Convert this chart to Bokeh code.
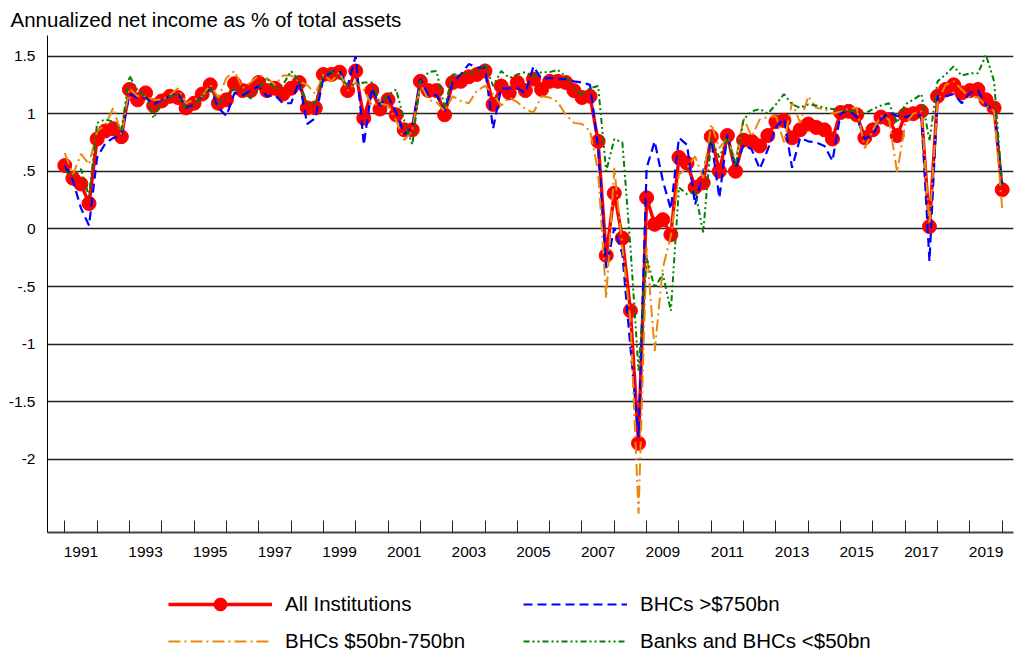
from bokeh.plotting import figure
from bokeh.layouts import column
from bokeh.models import FixedTicker, Legend, LegendItem, Range1d
from bokeh.embed import file_html
from bokeh.resources import INLINE

# Quarterly observations, 1991Q1 .. 2020Q1
quarters = [f"{y}Q{q}" for y in range(1991, 2021) for q in range(1, 5)][:117]

all_inst = [0.55, 0.44, 0.39, 0.22, 0.78, 0.85, 0.87, 0.80, 1.21, 1.12, 1.18, 1.07,
            1.11, 1.15, 1.14, 1.05, 1.09, 1.17, 1.25, 1.09, 1.12, 1.26, 1.20, 1.20,
            1.27, 1.20, 1.22, 1.17, 1.22, 1.27, 1.05, 1.05, 1.34, 1.34, 1.36, 1.20,
            1.37, 0.96, 1.20, 1.04, 1.12, 0.99, 0.86, 0.86, 1.28, 1.20, 1.20, 0.99,
            1.27, 1.28, 1.32, 1.34, 1.37, 1.08, 1.24, 1.18, 1.27, 1.20, 1.30, 1.21,
            1.28, 1.28, 1.27, 1.20, 1.14, 1.15, 0.76, -0.23, 0.31, -0.08, -0.71, -1.86,
            0.27, 0.04, 0.08, -0.05, 0.62, 0.57, 0.36, 0.40, 0.80, 0.50, 0.81, 0.50,
            0.77, 0.76, 0.72, 0.81, 0.93, 0.94, 0.79, 0.86, 0.91, 0.88, 0.86, 0.78,
            1.01, 1.02, 0.99, 0.79, 0.86, 0.97, 0.95, 0.81, 0.99, 1.00, 1.02, 0.02,
            1.15, 1.21, 1.25, 1.18, 1.20, 1.21, 1.12, 1.05, 0.34]

bhc_large = [0.55, 0.42, 0.18, 0.03, 0.62, 0.74, 0.79, 0.81, 1.17, 1.14, 1.14, 1.08,
             1.12, 1.15, 1.18, 1.05, 1.08, 1.15, 1.22, 1.05, 0.98, 1.18, 1.16, 1.20,
             1.24, 1.15, 1.16, 1.09, 1.09, 1.28, 0.91, 0.96, 1.31, 1.36, 1.37, 1.24,
             1.50, 0.73, 1.22, 1.07, 1.15, 1.01, 0.82, 0.88, 1.30, 1.16, 1.16, 1.02,
             1.27, 1.34, 1.43, 1.40, 1.40, 0.87, 1.22, 1.22, 1.22, 1.18, 1.41, 1.30,
             1.31, 1.30, 1.30, 1.28, 1.27, 1.25, 0.70, -0.34, 0.01, -0.22, -1.03, -1.81,
             0.53, 0.76, 0.42, 0.17, 0.79, 0.73, 0.21, 0.50, 0.77, 0.27, 0.82, 0.53,
             0.73, 0.69, 0.52, 0.69, 0.88, 0.96, 0.53, 0.79, 0.76, 0.75, 0.72, 0.59,
             1.00, 1.03, 0.97, 0.78, 0.82, 0.95, 1.01, 0.98, 0.97, 0.99, 0.98, -0.28,
             1.15, 1.15, 1.17, 1.09, 1.18, 1.20, 1.07, 1.04, 0.39]

bhc_mid = [0.66, 0.47, 0.65, 0.56, 0.85, 0.90, 1.05, 0.82, 1.22, 1.15, 1.15, 1.12,
           1.12, 1.16, 1.22, 1.09, 1.12, 1.15, 1.25, 1.14, 1.31, 1.37, 1.22, 1.27,
           1.33, 1.31, 1.25, 1.33, 1.33, 1.28, 1.25, 1.17, 1.34, 1.28, 1.36, 1.20,
           1.27, 1.21, 1.07, 1.09, 1.07, 0.94, 0.77, 0.85, 1.26, 1.12, 1.10, 1.02,
           1.15, 1.11, 1.09, 1.20, 1.24, 1.17, 1.07, 1.14, 1.10, 1.04, 1.01, 1.15,
           1.14, 1.10, 0.99, 0.92, 0.91, 0.85, 0.50, -0.60, 0.53, -0.16, -0.80, -2.47,
           -0.16, -1.06, -0.34, -0.06, 0.47, 0.53, 0.63, 0.44, 0.91, 0.70, 0.79, 0.59,
           0.96, 0.80, 0.95, 0.97, 0.98, 0.75, 1.10, 0.92, 1.15, 1.05, 1.04, 1.00,
           1.02, 1.04, 1.05, 0.70, 0.86, 0.98, 0.95, 0.49, 0.91, 1.00, 1.02, 0.04,
           1.10, 1.25, 1.28, 1.21, 1.14, 1.14, 1.07, 1.02, 0.18]

small_banks = [0.50, 0.46, 0.52, 0.28, 0.92, 0.95, 0.93, 0.85, 1.33, 1.20, 1.15, 0.96,
               1.10, 1.15, 1.16, 1.04, 1.07, 1.15, 1.22, 1.08, 1.16, 1.22, 1.20, 1.13,
               1.22, 1.31, 1.21, 1.25, 1.37, 1.28, 1.08, 1.09, 1.33, 1.37, 1.31, 1.25,
               1.25, 1.27, 1.27, 1.09, 1.16, 1.21, 0.94, 0.73, 1.28, 1.36, 1.37, 1.05,
               1.34, 1.34, 1.36, 1.36, 1.43, 1.24, 1.37, 1.31, 1.34, 1.36, 1.32, 1.36,
               1.36, 1.38, 1.32, 1.22, 1.16, 1.22, 1.24, 0.50, 0.78, 0.75, -0.16, -1.23,
               -0.25, -0.51, -0.39, -0.71, 0.36, 0.30, 0.33, -0.03, 0.78, 0.62, 0.79, 0.55,
               0.95, 1.02, 1.04, 1.00, 1.08, 1.17, 1.08, 1.05, 1.08, 1.07, 1.05, 1.04,
               1.03, 1.02, 1.02, 1.00, 1.04, 1.07, 1.09, 0.92, 1.08, 1.12, 1.17, 0.76,
               1.28, 1.34, 1.41, 1.33, 1.35, 1.35, 1.51, 1.28, 0.36]

series_names = ["All Institutions", "BHCs >$750bn", "BHCs $50bn-750bn",
                "Banks and BHCs <$50bn"]

label_years = [1991, 1993, 1995, 1997, 1999, 2001, 2003, 2005, 2007, 2009,
               2011, 2013, 2015, 2017, 2019]
y_ticks = [-2, -1.5, -1, -0.5, 0, 0.5, 1, 1.5]
y_tick_labels = ["-2", "-1.5", "-1", "-.5", "0", ".5", "1", "1.5"]

x = [int(s[:4]) + (int(s[5]) - 1) / 4 for s in quarters]

FONT = "Liberation Sans"
RED, BLUE, ORANGE, GREEN = "#ff0000", "#0000ff", "#e8890c", "#008000"
STYLES = [
    dict(line_color=RED, line_width=3.4),
    dict(line_color=BLUE, line_width=2.2, line_dash="9 5"),
    dict(line_color=ORANGE, line_width=2, line_dash="12 4 2 4"),
    dict(line_color=GREEN, line_width=2, line_dash="6 3 2 3 2 3"),
]
SERIES = [all_inst, bhc_large, bhc_mid, small_banks]

p = figure(width=1015, height=575, output_backend="svg", toolbar_location=None,
           x_range=Range1d(1990.465, 2020.35), y_range=Range1d(-2.634, 1.678),
           min_border_left=47, min_border_right=2, min_border_top=0, min_border_bottom=43)
p.outline_line_color = None
p.background_fill_color = "white"

p.title.text = "Annualized net income as % of total assets"
p.title.text_font = FONT
p.title.text_font_size = "20.5px"
p.title.text_font_style = "normal"
p.title.text_color = "black"
p.title.align = "left"
p.title.offset = -37
p.title.standoff = 10

# x axis: unlabeled year ticks (minor), labels centered between them
xa = p.xaxis[0]
xa.ticker = FixedTicker(ticks=[yr + 0.5 for yr in label_years],
                        minor_ticks=list(range(1991, 2021)))
xa.major_label_overrides = {yr + 0.5: str(yr) for yr in label_years}
xa.major_tick_line_color = None
xa.major_tick_in = 0
xa.major_tick_out = 0
xa.minor_tick_in = 12
xa.minor_tick_out = 0
xa.minor_tick_line_color = "#222222"
xa.minor_tick_line_width = 1
xa.axis_line_color = "#444444"
xa.axis_line_width = 2
xa.major_label_text_font = FONT
xa.major_label_text_font_size = "15.5px"
xa.major_label_text_color = "black"
xa.major_label_standoff = 14

ya = p.yaxis[0]
ya.ticker = FixedTicker(ticks=y_ticks, minor_ticks=[])
ya.major_label_overrides = {t: lab for t, lab in zip(y_ticks, y_tick_labels)}
ya.major_tick_line_color = None
ya.major_tick_in = 0
ya.major_tick_out = 0
ya.axis_line_color = "black"
ya.axis_line_width = 1
ya.major_label_text_font = FONT
ya.major_label_text_font_size = "15.5px"
ya.major_label_text_color = "black"
ya.major_label_standoff = 12

p.xgrid.visible = False
p.ygrid.grid_line_color = "#222222"
p.ygrid.grid_line_width = 1.3

p.line(x, all_inst, **STYLES[0])
p.scatter(x, all_inst, size=14, fill_color=RED, line_color=RED)
for vals, st in zip(SERIES[1:], STYLES[1:]):
    p.line(x, vals, **st)

# legend strip below the chart (same series, drawn outside its visible range)
leg = figure(width=1015, height=81, output_backend="svg", toolbar_location=None,
             x_range=Range1d(0, 1), y_range=Range1d(0, 1),
             x_axis_type=None, y_axis_type=None,
             min_border_left=0, min_border_right=0, min_border_top=0, min_border_bottom=0)
leg.outline_line_color = None
k = [leg.line(x, vals, **st) for vals, st in zip(SERIES, STYLES)]
k_pts = leg.scatter(x, all_inst, size=14, fill_color=RED, line_color=RED)

legend = Legend(items=[
    LegendItem(label=series_names[0], renderers=[k[0], k_pts]),
    LegendItem(label=series_names[1], renderers=[k[1]]),
    LegendItem(label=series_names[2], renderers=[k[2]]),
    LegendItem(label=series_names[3], renderers=[k[3]]),
], ncols=2, orientation="horizontal", location=(121, -1))
legend.border_line_color = None
legend.background_fill_alpha = 0
legend.label_text_font = FONT
legend.label_text_font_size = "20.5px"
legend.label_text_color = "black"
legend.glyph_width = 104
legend.glyph_height = 32
legend.label_height = 20
legend.label_standoff = 13
legend.label_width = 233
legend.spacing = 5
legend.padding = 0
legend.margin = 0
leg.add_layout(legend)

open("out.html", "w").write(file_html(column(p, leg), INLINE))
